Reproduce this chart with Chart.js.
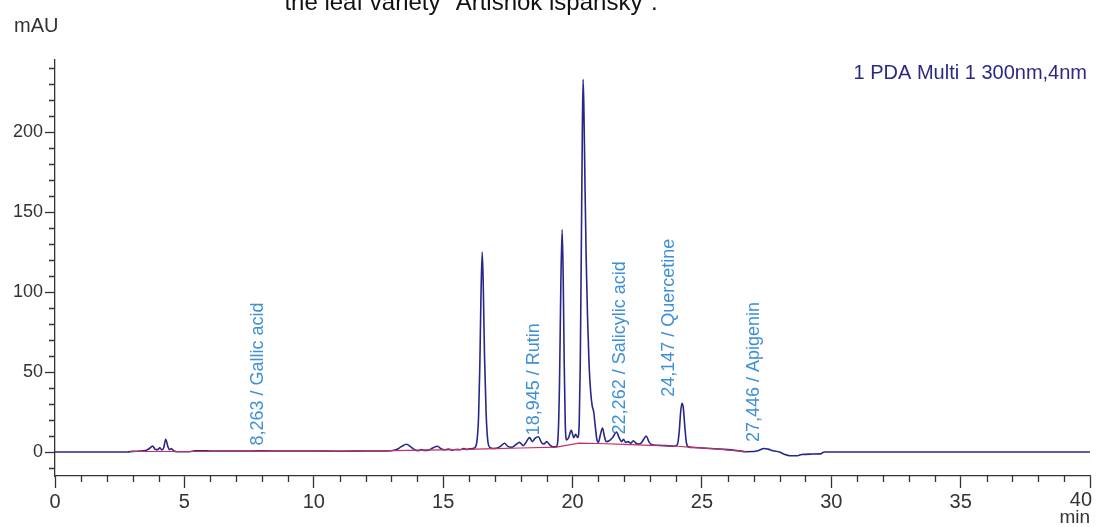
<!DOCTYPE html>
<html>
<head>
<meta charset="utf-8">
<script src="https://cdn.jsdelivr.net/npm/chart.js@4.4.0/dist/chart.umd.min.js"></script>
<style>
  html, body { margin: 0; padding: 0; background: #fff; }
  #wrap { width: 1099px; height: 527px; position: relative; }
</style>
</head>
<body>
<div id="wrap"><canvas id="chromChart"></canvas></div>
<script>
// retention time (min) and detector signal (mAU)
const times = [
  0, 2.8, 3.0, 3.3, 3.5, 3.65, 3.77, 3.88, 3.97, 4.05, 4.13, 4.2, 4.28, 4.36, 4.42, 4.5, 4.58, 4.7,
  5.2, 5.4, 5.7, 6.0, 7.0, 8.0, 9.0, 10.0, 11.0, 12.0, 13.0, 13.2, 13.4, 13.58, 13.75, 13.9,
  14.05, 14.15, 14.28, 14.45, 14.6, 14.78, 14.92, 15.05, 15.2, 15.35, 15.5, 15.65, 15.8, 15.9,
  16.05, 16.2, 16.3, 16.37, 16.42, 16.46, 16.51, 16.55, 16.6, 16.66, 16.72, 16.8, 16.95,
  17.1, 17.25, 17.37, 17.5, 17.65, 17.8, 17.95, 18.1, 18.2, 18.34, 18.45, 18.55, 18.68, 18.8, 18.9,
  19.0, 19.12, 19.25, 19.38, 19.45, 19.5, 19.55, 19.6, 19.64, 19.68, 19.72, 19.77, 19.85, 19.95,
  20.05, 20.12, 20.2, 20.26, 20.3, 20.34, 20.38, 20.41, 20.44, 20.48, 20.53, 20.58, 20.64, 20.7,
  20.76, 20.82, 20.88, 20.94, 21.0, 21.08, 21.16, 21.23, 21.3, 21.42, 21.55, 21.7, 21.8, 21.9,
  21.97, 22.05, 22.15, 22.25, 22.35, 22.45, 22.55, 22.65, 22.77, 22.85, 22.95, 23.05, 23.3, 23.6,
  23.9, 24.05, 24.12, 24.18, 24.23, 24.28, 24.34, 24.4, 24.48, 24.7, 25.0, 25.5, 26.0, 26.4, 26.7,
  27.0, 27.2, 27.4, 27.55, 27.75, 28.0, 28.2, 28.4, 28.7, 28.85, 29.2, 29.6, 29.72, 30.5, 40
];
const signal = [
  0, 0, 0.4, 0.6, 1.0, 2.2, 3.7, 1.6, 1.5, 2.6, 1.3, 2.5, 8, 3.5, 1.5, 2.2, 0.8, 0.2,
  0.2, 0.7, 0.8, 0.6, 0.6, 0.7, 0.6, 0.6, 0.5, 0.6, 0.8, 1.5, 3.5, 4.8, 3.2, 1.5,
  0.8, 1.6, 1.0, 1.3, 2.5, 3.6, 2.0, 1.4, 1.8, 1.2, 1.6, 1.4, 2.2, 1.6,
  2.0, 2.4, 6, 22, 55, 95, 125, 105, 60, 25, 8, 3, 2.2,
  2.5, 4, 5.5, 3.5, 3, 4.5, 6, 4, 6, 9, 6.5, 8.5, 9.5, 6, 5,
  6.5, 4.5, 3.2, 3.5, 12, 45, 105, 139, 110, 55, 18, 7.5, 9, 13.5,
  9, 11, 9, 18, 55, 125, 200, 233, 215, 170, 120, 85, 55, 38,
  29, 25, 16, 8, 6, 11, 15, 10, 6.5, 7, 9, 12.5, 9, 6.5,
  8, 6, 6.5, 5.5, 7, 5.5, 5, 5.5, 8.5, 10, 6.5, 4.6, 4.2, 4,
  3.6, 4.5, 12, 25, 30.5, 28, 16, 6, 3.2, 2.8, 2.5, 2.0, 1.5, 0.8, 0.2,
  0.3, 1.0, 2.2, 1.8, 0.8, 0.0, -1.5, -2.3, -2.3, -1.6, -1.3, -1.2, 0, 0, 0
];

// integration baseline
const baseTimes = [2.9, 4.7, 5.2, 8, 11, 13, 15, 16.25, 17, 18, 19.38, 20.25, 21, 22, 23, 24.05, 24.5, 25.5, 26.7];
const baseSignal = [0.3, 0.3, 0.3, 0.6, 0.5, 0.8, 1.3, 1.8, 2.1, 2.5, 3.0, 5.5, 5.3, 4.8, 4.2, 3.6, 3.0, 1.9, 0.2];

// identified peaks
const peakTimes = [8.263, 18.945, 22.262, 24.147, 27.446];
const peakNames = ["Gallic acid", "Rutin", "Salicylic acid", "Quercetine", "Apigenin"];

// axis ticks
const xTicks = [0, 5, 10, 15, 20, 25, 30, 35, 40];
const yTicks = [0, 50, 100, 150, 200];

document.addEventListener("DOMContentLoaded", function () {
    const axisColor = "#333333";
    const font = "Liberation Sans";
    const xMax = xTicks[xTicks.length - 1];

    // minor ticks, peak labels and the loose texts
    const extras = {
        id: "extras",
        afterDraw(chart) {
            const c = chart.ctx;
            const xs = chart.scales.x;
            const ys = chart.scales.y;
            const area = chart.chartArea;

            c.save();
            c.strokeStyle = axisColor;
            c.lineWidth = 1.3;
            c.beginPath();
            for (let v = 1; v < 40; v++) {
                if (v % 5 === 0) continue;
                const px = Math.round(xs.getPixelForValue(v)) + 0.5;
                c.moveTo(px, area.bottom);
                c.lineTo(px, area.bottom + 6);
            }
            for (let v = -10; v <= 240; v += 10) {
                if (v % 50 === 0) continue;
                const py = Math.round(ys.getPixelForValue(v)) + 0.5;
                c.moveTo(area.left, py);
                c.lineTo(area.left - 6, py);
            }
            c.stroke();

            // last x label sits flush with its tick, as in the original
            c.fillStyle = axisColor;
            c.font = "20px '" + font + "'";
            c.textAlign = "right";
            c.textBaseline = "top";
            c.fillText(String(xMax), xs.getPixelForValue(xMax) + 2, area.bottom + 14);

            // peak labels, rotated, just above the trace
            c.fillStyle = "#3f8fd6";
            c.font = "18px '" + font + "'";
            c.textAlign = "left";
            c.textBaseline = "alphabetic";
            peakTimes.forEach(function (t, i) {
                let top = 0;
                times.forEach(function (tt, j) {
                    if (Math.abs(tt - t) <= 0.15) top = Math.max(top, signal[j]);
                });
                const px = xs.getPixelForValue(t) - 6;
                const py = ys.getPixelForValue(top + 4);
                const text = t.toFixed(3).replace(".", ",") + " / " + peakNames[i];
                c.save();
                c.translate(px, py);
                c.rotate(-Math.PI / 2);
                c.fillText(text, 0, 0);
                c.restore();
            });

            c.fillStyle = "#333333";
            c.font = "20px '" + font + "'";
            c.textAlign = "left";
            c.fillText("mAU", 14, 32);

            c.fillStyle = "#111111";
            c.font = "24px '" + font + "'";
            c.textAlign = "center";
            c.fillText('the leaf variety "Artishok ispansky".', 471, 10);

            c.fillStyle = "#2a2a85";
            c.font = "20px '" + font + "'";
            c.textAlign = "right";
            c.fillText("1 PDA Multi 1 300nm,4nm", 1087, 79);

            c.fillStyle = "#333333";
            c.font = "19px '" + font + "'";
            c.textAlign = "right";
            c.fillText("min", 1090, 523);
            c.restore();
        }
    };

    const ctx = document.getElementById("chromChart").getContext("2d");
    new Chart(ctx, {
        type: "line",
        data: {
            datasets: [{
                label: "Baseline",
                data: baseTimes.map((t, i) => ({ x: t, y: baseSignal[i] })),
                borderColor: "#c23262",
                borderWidth: 1.2,
                pointRadius: 0,
                tension: 0
            }, {
                label: "1 PDA Multi 1 300nm,4nm",
                data: times.map((t, i) => ({ x: t, y: signal[i] })),
                borderColor: "#27278a",
                borderWidth: 1.6,
                pointRadius: 0,
                cubicInterpolationMode: "monotone"
            }]
        },
        options: {
            responsive: true,
            maintainAspectRatio: false,
            animation: false,
            devicePixelRatio: 1,
            layout: { padding: { top: 60, right: 9, left: 0, bottom: 0 } },
            plugins: {
                legend: { display: false },
                tooltip: { enabled: false }
            },
            scales: {
                x: {
                    type: "linear",
                    min: 0,
                    max: xMax,
                    afterBuildTicks: s => { s.ticks = xTicks.map(v => ({ value: v })); },
                    afterFit: s => { s.height = 51; s.paddingLeft = 0; s.paddingRight = 0; },
                    ticks: {
                        color: axisColor,
                        font: { family: font, size: 20 },
                        padding: 2,
                        maxRotation: 0,
                        autoSkip: false,
                        callback: v => (v === xMax ? "" : String(v))
                    },
                    grid: {
                        drawOnChartArea: false,
                        tickLength: 12,
                        tickColor: axisColor,
                        tickWidth: 1.3
                    },
                    border: { color: axisColor, width: 1.3 }
                },
                y: {
                    type: "linear",
                    min: -15,
                    max: 245,
                    afterBuildTicks: s => { s.ticks = yTicks.map(v => ({ value: v })); },
                    afterFit: s => { s.width = 55; },
                    ticks: {
                        color: axisColor,
                        font: { family: font, size: 18 },
                        padding: 2
                    },
                    grid: {
                        drawOnChartArea: false,
                        tickLength: 10,
                        tickColor: axisColor,
                        tickWidth: 1.3
                    },
                    border: { color: axisColor, width: 1.3 }
                }
            }
        },
        plugins: [extras]
    });
});
</script>
</body>
</html>
